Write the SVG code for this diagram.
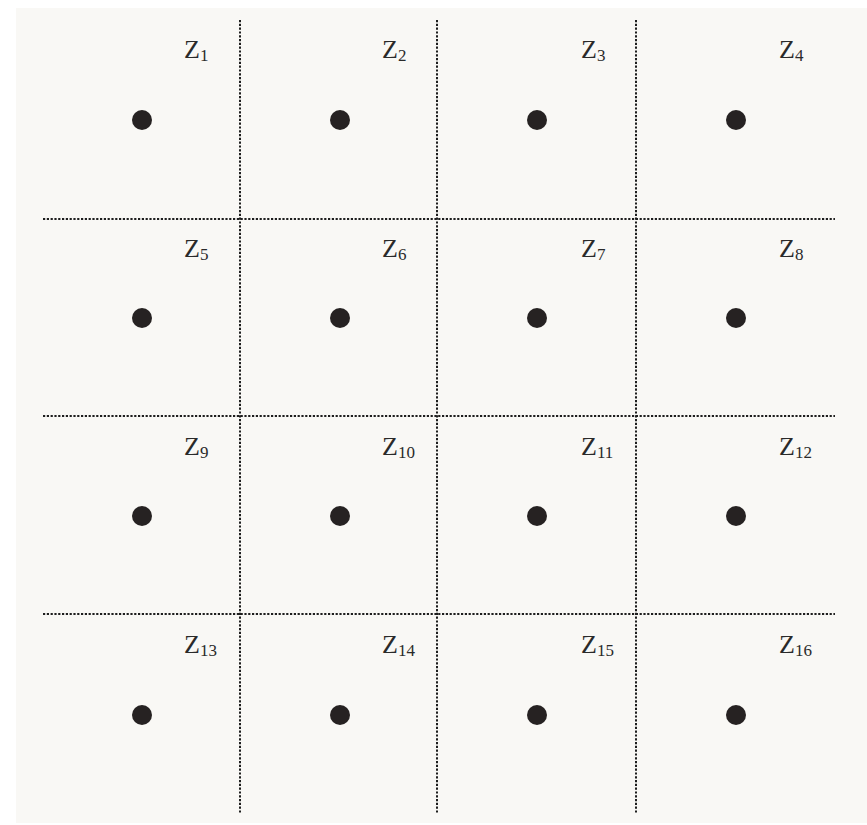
<svg xmlns="http://www.w3.org/2000/svg" width="867" height="825" viewBox="0 0 867 825">
<style>
.grid{stroke:#1e1e1e;stroke-width:2;stroke-dasharray:2.2 1.6;fill:none}
.dot{fill:#262222}
.lbl{font-family:"Liberation Serif","Times New Roman",serif;font-size:26px;fill:#2a2a2a}
.sub{font-size:17px}
</style>
<rect x="0" y="0" width="867" height="825" fill="#ffffff"/>
<rect x="16" y="8" width="851" height="815" fill="#f9f8f5"/>
<g id="connectors">
<line class="grid" x1="240" y1="20" x2="240" y2="814"/>
<line class="grid" x1="437" y1="20" x2="437" y2="814"/>
<line class="grid" x1="636" y1="20" x2="636" y2="814"/>
<line class="grid" x1="43" y1="219" x2="835" y2="219"/>
<line class="grid" x1="43" y1="416" x2="835" y2="416"/>
<line class="grid" x1="43" y1="614" x2="835" y2="614"/>
</g>
<g id="n1"><circle class="dot" cx="142" cy="120" r="10"/><text class="lbl" x="184" y="58">Z<tspan class="sub" dy="3">1</tspan></text></g>
<g id="n2"><circle class="dot" cx="340" cy="120" r="10"/><text class="lbl" x="382" y="58">Z<tspan class="sub" dy="3">2</tspan></text></g>
<g id="n3"><circle class="dot" cx="537" cy="120" r="10"/><text class="lbl" x="581" y="58">Z<tspan class="sub" dy="3">3</tspan></text></g>
<g id="n4"><circle class="dot" cx="736" cy="120" r="10"/><text class="lbl" x="779" y="58">Z<tspan class="sub" dy="3">4</tspan></text></g>
<g id="n5"><circle class="dot" cx="142" cy="318" r="10"/><text class="lbl" x="184" y="257">Z<tspan class="sub" dy="3">5</tspan></text></g>
<g id="n6"><circle class="dot" cx="340" cy="318" r="10"/><text class="lbl" x="382" y="257">Z<tspan class="sub" dy="3">6</tspan></text></g>
<g id="n7"><circle class="dot" cx="537" cy="318" r="10"/><text class="lbl" x="581" y="257">Z<tspan class="sub" dy="3">7</tspan></text></g>
<g id="n8"><circle class="dot" cx="736" cy="318" r="10"/><text class="lbl" x="779" y="257">Z<tspan class="sub" dy="3">8</tspan></text></g>
<g id="n9"><circle class="dot" cx="142" cy="516" r="10"/><text class="lbl" x="184" y="455">Z<tspan class="sub" dy="3">9</tspan></text></g>
<g id="n10"><circle class="dot" cx="340" cy="516" r="10"/><text class="lbl" x="382" y="455">Z<tspan class="sub" dy="3">10</tspan></text></g>
<g id="n11"><circle class="dot" cx="537" cy="516" r="10"/><text class="lbl" x="581" y="455">Z<tspan class="sub" dy="3">11</tspan></text></g>
<g id="n12"><circle class="dot" cx="736" cy="516" r="10"/><text class="lbl" x="779" y="455">Z<tspan class="sub" dy="3">12</tspan></text></g>
<g id="n13"><circle class="dot" cx="142" cy="715" r="10"/><text class="lbl" x="184" y="653">Z<tspan class="sub" dy="3">13</tspan></text></g>
<g id="n14"><circle class="dot" cx="340" cy="715" r="10"/><text class="lbl" x="382" y="653">Z<tspan class="sub" dy="3">14</tspan></text></g>
<g id="n15"><circle class="dot" cx="537" cy="715" r="10"/><text class="lbl" x="581" y="653">Z<tspan class="sub" dy="3">15</tspan></text></g>
<g id="n16"><circle class="dot" cx="736" cy="715" r="10"/><text class="lbl" x="779" y="653">Z<tspan class="sub" dy="3">16</tspan></text></g>
</svg>
